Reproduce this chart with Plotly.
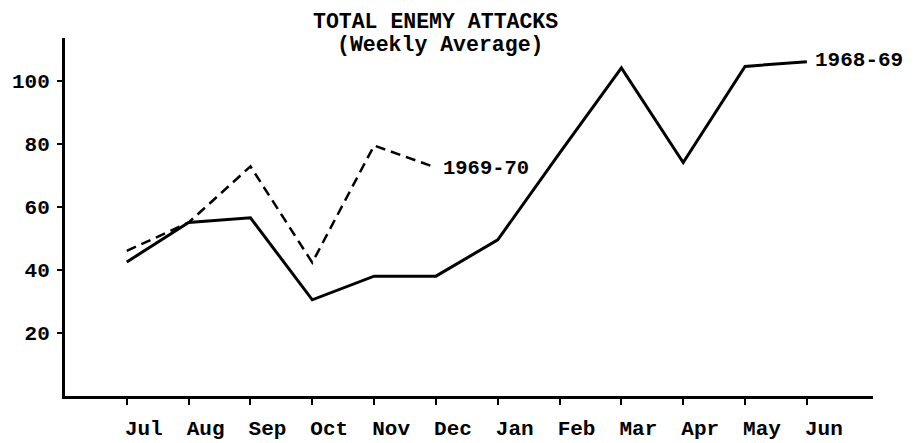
import plotly.graph_objects as go

months = ["Jul", "Aug", "Sep", "Oct", "Nov", "Dec", "Jan", "Feb", "Mar", "Apr", "May", "Jun"]
y_1968_69 = [42.5, 55, 56.5, 30.5, 38, 38, 49.5, 77, 104, 74, 104.5, 106]
months_1969_70 = ["Jul", "Aug", "Sep", "Oct", "Nov", "Dec"]
y_1969_70 = [46, 55, 72.8, 42.3, 79.4, 72.4]
y_ticks = [20, 40, 60, 80, 100]

idx = {m: i for i, m in enumerate(months)}
FONT = "Liberation Mono"

fig = go.Figure()
fig.add_trace(go.Scatter(
    x=[idx[m] for m in months], y=y_1968_69, mode="lines",
    line=dict(color="black", width=3), name="1968-69", hoverinfo="skip"))
fig.add_trace(go.Scatter(
    x=[idx[m] for m in months_1969_70], y=y_1969_70, mode="lines",
    line=dict(color="black", width=2.5, dash="10px,6px"), name="1969-70", hoverinfo="skip"))

fig.add_annotation(x=idx["Dec"], y=y_1969_70[-1], text="<b>1969-70</b>", xanchor="left",
                   yanchor="middle", xshift=5, yshift=-1, showarrow=False,
                   font=dict(family=FONT, size=20.5, color="black"))
fig.add_annotation(x=idx["Jun"], y=y_1968_69[-1], text="<b>1968-69</b>", xanchor="left",
                   yanchor="middle", xshift=6, yshift=1, showarrow=False,
                   font=dict(family=FONT, size=21, color="black"))
fig.add_annotation(x=0.458, y=1.045, xref="paper", yref="paper", yanchor="middle",
                   text="<b>TOTAL ENEMY ATTACKS</b>", showarrow=False,
                   font=dict(family=FONT, size=21.5, color="black"))
fig.add_annotation(x=0.464, y=0.980, xref="paper", yref="paper", yanchor="middle",
                   text="<b>(Weekly Average)</b>", showarrow=False,
                   font=dict(family=FONT, size=21.5, color="black"))

fig.update_layout(
    width=909, height=435,
    margin=dict(l=57, r=44, t=30, b=47),
    paper_bgcolor="white", plot_bgcolor="white",
    showlegend=False,
    xaxis=dict(range=[-1, 12.07], tickmode="array", tickvals=list(range(12)),
               ticktext=[f"<b>{m}</b>" for m in months], showgrid=False, zeroline=False,
               showline=True, linecolor="black", linewidth=3, automargin=False,
               ticks="outside", ticklen=6, tickwidth=2, tickcolor="black",
               ticklabelstandoff=5, ticklabelshift=17,
               tickfont=dict(family=FONT, size=21, color="black")),
    yaxis=dict(range=[0, 113.5], tickmode="array", tickvals=y_ticks,
               ticktext=[f"<b>{v}</b>" for v in y_ticks],
               showgrid=False, zeroline=False, automargin=False,
               showline=True, linecolor="black", linewidth=3,
               ticks="outside", ticklen=5, tickwidth=2, tickcolor="black",
               ticklabelstandoff=3,
               tickfont=dict(family=FONT, size=21, color="black")),
)

fig.write_html("out.html")
